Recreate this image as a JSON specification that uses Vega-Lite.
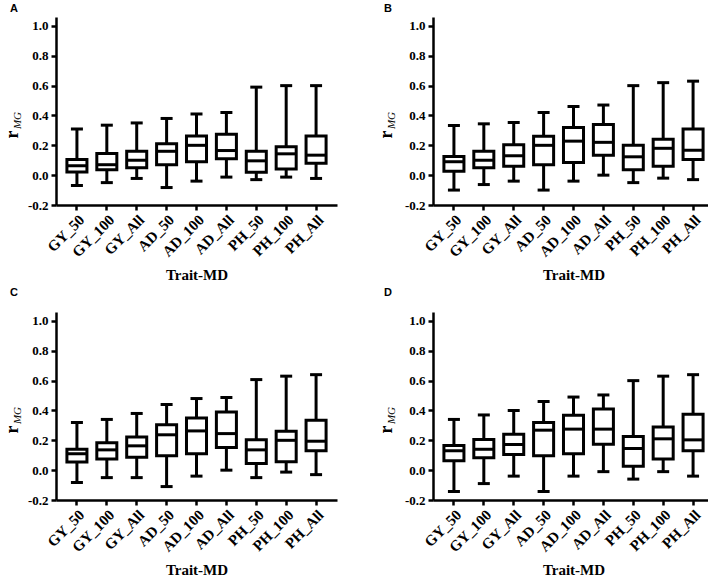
{
  "$schema": "https://vega.github.io/schema/vega-lite/v6.json",
  "padding": {"left": 3, "top": 3, "right": 0, "bottom": 0},
  "background": "white",
  "datasets": {
    "box": [
      {"panel": "A", "cat": "GY_50", "min": -0.07, "q1": 0.022, "med": 0.063, "q3": 0.105, "max": 0.31},
      {"panel": "A", "cat": "GY_100", "min": -0.05, "q1": 0.036, "med": 0.07, "q3": 0.145, "max": 0.335},
      {"panel": "A", "cat": "GY_All", "min": -0.022, "q1": 0.05, "med": 0.1, "q3": 0.16, "max": 0.35},
      {"panel": "A", "cat": "AD_50", "min": -0.083, "q1": 0.07, "med": 0.16, "q3": 0.21, "max": 0.38},
      {"panel": "A", "cat": "AD_100", "min": -0.04, "q1": 0.09, "med": 0.2, "q3": 0.263, "max": 0.41},
      {"panel": "A", "cat": "AD_All", "min": -0.013, "q1": 0.11, "med": 0.165, "q3": 0.275, "max": 0.42},
      {"panel": "A", "cat": "PH_50", "min": -0.03, "q1": 0.02, "med": 0.096, "q3": 0.16, "max": 0.59},
      {"panel": "A", "cat": "PH_100", "min": -0.013, "q1": 0.042, "med": 0.143, "q3": 0.19, "max": 0.6},
      {"panel": "A", "cat": "PH_All", "min": -0.022, "q1": 0.08, "med": 0.134, "q3": 0.263, "max": 0.6},
      {"panel": "B", "cat": "GY_50", "min": -0.1, "q1": 0.027, "med": 0.09, "q3": 0.125, "max": 0.333},
      {"panel": "B", "cat": "GY_100", "min": -0.063, "q1": 0.05, "med": 0.1, "q3": 0.16, "max": 0.344},
      {"panel": "B", "cat": "GY_All", "min": -0.04, "q1": 0.06, "med": 0.13, "q3": 0.203, "max": 0.353},
      {"panel": "B", "cat": "AD_50", "min": -0.1, "q1": 0.07, "med": 0.2, "q3": 0.26, "max": 0.42},
      {"panel": "B", "cat": "AD_100", "min": -0.04, "q1": 0.085, "med": 0.228, "q3": 0.32, "max": 0.46},
      {"panel": "B", "cat": "AD_All", "min": 0.0, "q1": 0.134, "med": 0.22, "q3": 0.34, "max": 0.47},
      {"panel": "B", "cat": "PH_50", "min": -0.05, "q1": 0.036, "med": 0.123, "q3": 0.2, "max": 0.6},
      {"panel": "B", "cat": "PH_100", "min": -0.02, "q1": 0.06, "med": 0.18, "q3": 0.24, "max": 0.62},
      {"panel": "B", "cat": "PH_All", "min": -0.03, "q1": 0.105, "med": 0.167, "q3": 0.31, "max": 0.63},
      {"panel": "C", "cat": "GY_50", "min": -0.083, "q1": 0.054, "med": 0.11, "q3": 0.14, "max": 0.32},
      {"panel": "C", "cat": "GY_100", "min": -0.05, "q1": 0.074, "med": 0.136, "q3": 0.183, "max": 0.34},
      {"panel": "C", "cat": "GY_All", "min": -0.05, "q1": 0.087, "med": 0.163, "q3": 0.223, "max": 0.38},
      {"panel": "C", "cat": "AD_50", "min": -0.11, "q1": 0.096, "med": 0.237, "q3": 0.304, "max": 0.44},
      {"panel": "C", "cat": "AD_100", "min": -0.04, "q1": 0.11, "med": 0.263, "q3": 0.35, "max": 0.48},
      {"panel": "C", "cat": "AD_All", "min": 0.0, "q1": 0.152, "med": 0.245, "q3": 0.39, "max": 0.487},
      {"panel": "C", "cat": "PH_50", "min": -0.05, "q1": 0.045, "med": 0.136, "q3": 0.203, "max": 0.607},
      {"panel": "C", "cat": "PH_100", "min": -0.013, "q1": 0.056, "med": 0.2, "q3": 0.26, "max": 0.63},
      {"panel": "C", "cat": "PH_All", "min": -0.03, "q1": 0.13, "med": 0.194, "q3": 0.335, "max": 0.64},
      {"panel": "D", "cat": "GY_50", "min": -0.143, "q1": 0.063, "med": 0.13, "q3": 0.165, "max": 0.34},
      {"panel": "D", "cat": "GY_100", "min": -0.09, "q1": 0.083, "med": 0.14, "q3": 0.205, "max": 0.37},
      {"panel": "D", "cat": "GY_All", "min": -0.04, "q1": 0.105, "med": 0.172, "q3": 0.24, "max": 0.4},
      {"panel": "D", "cat": "AD_50", "min": -0.143, "q1": 0.096, "med": 0.268, "q3": 0.32, "max": 0.46},
      {"panel": "D", "cat": "AD_100", "min": -0.04, "q1": 0.11, "med": 0.275, "q3": 0.368, "max": 0.49},
      {"panel": "D", "cat": "AD_All", "min": -0.01, "q1": 0.174, "med": 0.275, "q3": 0.41, "max": 0.504},
      {"panel": "D", "cat": "PH_50", "min": -0.06, "q1": 0.027, "med": 0.145, "q3": 0.225, "max": 0.6},
      {"panel": "D", "cat": "PH_100", "min": -0.01, "q1": 0.074, "med": 0.21, "q3": 0.29, "max": 0.63},
      {"panel": "D", "cat": "PH_All", "min": -0.04, "q1": 0.13, "med": 0.203, "q3": 0.375, "max": 0.64}
    ]
  },
  "vconcat": [
    {
      "hconcat": [
        {
          "data": {"name": "box"},
          "transform": [{"filter": "datum.panel === 'A'"}],
          "title": {"text": "A", "dx": -46, "offset": 3},
          "width": 281, "height": 188,
          "encoding": {"x": {"field": "cat", "type": "nominal", "sort": ["GY_50", "GY_100", "GY_All", "AD_50", "AD_100", "AD_All", "PH_50", "PH_100", "PH_All"], "scale": {"paddingInner": 0.33, "paddingOuter": 0.365}, "title": "Trait-MD"}},
          "layer": [
            {"mark": {"type": "rule", "strokeWidth": 3, "color": "black"}, "encoding": {"y": {"field": "min", "type": "quantitative", "scale": {"domain": [-0.2, 1.06], "nice": false, "zero": false}, "axis": {"title": "r", "values": [-0.2, 0, 0.2, 0.4, 0.6, 0.8, 1.0], "format": ".1f", "labelExpr": "replace(datum.label, '\u2212', '-')", "titleX": -39, "titleY": 117, "titleAngle": -90, "titleAlign": "center", "titleBaseline": "alphabetic", "titleFontSize": 18}}, "y2": {"field": "max"}}},
            {"mark": {"type": "tick", "size": 12, "thickness": 3, "color": "black", "opacity": 1}, "encoding": {"y": {"field": "min", "type": "quantitative", "axis": null}}},
            {"mark": {"type": "tick", "size": 12, "thickness": 3, "color": "black", "opacity": 1}, "encoding": {"y": {"field": "max", "type": "quantitative", "axis": null}}},
            {"mark": {"type": "bar", "fill": "white", "stroke": "black", "strokeWidth": 3, "fillOpacity": 1}, "encoding": {"y": {"field": "q1", "type": "quantitative", "axis": {"title": "MG", "orient": "left", "labels": false, "ticks": false, "domain": false, "grid": false, "titleX": -36, "titleY": 103, "titleAngle": -90, "titleAlign": "center", "titleBaseline": "alphabetic", "titleFontStyle": "italic", "titleFontWeight": "normal", "titleFontSize": 11}}, "y2": {"field": "q3"}}},
            {"mark": {"type": "tick", "size": 20, "thickness": 3, "color": "black", "opacity": 1}, "encoding": {"y": {"field": "med", "type": "quantitative", "axis": null}}}
          ],
          "resolve": {"axis": {"y": "independent"}}
        },
        {
          "data": {"name": "box"},
          "transform": [{"filter": "datum.panel === 'B'"}],
          "title": {"text": "B", "dx": -49, "offset": 3},
          "width": 281, "height": 188,
          "encoding": {"x": {"field": "cat", "type": "nominal", "sort": ["GY_50", "GY_100", "GY_All", "AD_50", "AD_100", "AD_All", "PH_50", "PH_100", "PH_All"], "scale": {"paddingInner": 0.33, "paddingOuter": 0.365}, "title": "Trait-MD"}},
          "layer": [
            {"mark": {"type": "rule", "strokeWidth": 3, "color": "black"}, "encoding": {"y": {"field": "min", "type": "quantitative", "scale": {"domain": [-0.2, 1.06], "nice": false, "zero": false}, "axis": {"title": "r", "values": [-0.2, 0, 0.2, 0.4, 0.6, 0.8, 1.0], "format": ".1f", "labelExpr": "replace(datum.label, '\u2212', '-')", "titleX": -42, "titleY": 117, "titleAngle": -90, "titleAlign": "center", "titleBaseline": "alphabetic", "titleFontSize": 18}}, "y2": {"field": "max"}}},
            {"mark": {"type": "tick", "size": 12, "thickness": 3, "color": "black", "opacity": 1}, "encoding": {"y": {"field": "min", "type": "quantitative", "axis": null}}},
            {"mark": {"type": "tick", "size": 12, "thickness": 3, "color": "black", "opacity": 1}, "encoding": {"y": {"field": "max", "type": "quantitative", "axis": null}}},
            {"mark": {"type": "bar", "fill": "white", "stroke": "black", "strokeWidth": 3, "fillOpacity": 1}, "encoding": {"y": {"field": "q1", "type": "quantitative", "axis": {"title": "MG", "orient": "left", "labels": false, "ticks": false, "domain": false, "grid": false, "titleX": -39, "titleY": 103, "titleAngle": -90, "titleAlign": "center", "titleBaseline": "alphabetic", "titleFontStyle": "italic", "titleFontWeight": "normal", "titleFontSize": 11}}, "y2": {"field": "q3"}}},
            {"mark": {"type": "tick", "size": 20, "thickness": 3, "color": "black", "opacity": 1}, "encoding": {"y": {"field": "med", "type": "quantitative", "axis": null}}}
          ],
          "resolve": {"axis": {"y": "independent"}}
        }
      ],
      "spacing": 40
    },
    {
      "hconcat": [
        {
          "data": {"name": "box"},
          "transform": [{"filter": "datum.panel === 'C'"}],
          "title": {"text": "C", "dx": -46, "offset": 14},
          "width": 281, "height": 188,
          "encoding": {"x": {"field": "cat", "type": "nominal", "sort": ["GY_50", "GY_100", "GY_All", "AD_50", "AD_100", "AD_All", "PH_50", "PH_100", "PH_All"], "scale": {"paddingInner": 0.33, "paddingOuter": 0.365}, "title": "Trait-MD"}},
          "layer": [
            {"mark": {"type": "rule", "strokeWidth": 3, "color": "black"}, "encoding": {"y": {"field": "min", "type": "quantitative", "scale": {"domain": [-0.2, 1.06], "nice": false, "zero": false}, "axis": {"title": "r", "values": [-0.2, 0, 0.2, 0.4, 0.6, 0.8, 1.0], "format": ".1f", "labelExpr": "replace(datum.label, '\u2212', '-')", "titleX": -39, "titleY": 117, "titleAngle": -90, "titleAlign": "center", "titleBaseline": "alphabetic", "titleFontSize": 18}}, "y2": {"field": "max"}}},
            {"mark": {"type": "tick", "size": 12, "thickness": 3, "color": "black", "opacity": 1}, "encoding": {"y": {"field": "min", "type": "quantitative", "axis": null}}},
            {"mark": {"type": "tick", "size": 12, "thickness": 3, "color": "black", "opacity": 1}, "encoding": {"y": {"field": "max", "type": "quantitative", "axis": null}}},
            {"mark": {"type": "bar", "fill": "white", "stroke": "black", "strokeWidth": 3, "fillOpacity": 1}, "encoding": {"y": {"field": "q1", "type": "quantitative", "axis": {"title": "MG", "orient": "left", "labels": false, "ticks": false, "domain": false, "grid": false, "titleX": -36, "titleY": 103, "titleAngle": -90, "titleAlign": "center", "titleBaseline": "alphabetic", "titleFontStyle": "italic", "titleFontWeight": "normal", "titleFontSize": 11}}, "y2": {"field": "q3"}}},
            {"mark": {"type": "tick", "size": 20, "thickness": 3, "color": "black", "opacity": 1}, "encoding": {"y": {"field": "med", "type": "quantitative", "axis": null}}}
          ],
          "resolve": {"axis": {"y": "independent"}}
        },
        {
          "data": {"name": "box"},
          "transform": [{"filter": "datum.panel === 'D'"}],
          "title": {"text": "D", "dx": -49, "offset": 14},
          "width": 281, "height": 188,
          "encoding": {"x": {"field": "cat", "type": "nominal", "sort": ["GY_50", "GY_100", "GY_All", "AD_50", "AD_100", "AD_All", "PH_50", "PH_100", "PH_All"], "scale": {"paddingInner": 0.33, "paddingOuter": 0.365}, "title": "Trait-MD"}},
          "layer": [
            {"mark": {"type": "rule", "strokeWidth": 3, "color": "black"}, "encoding": {"y": {"field": "min", "type": "quantitative", "scale": {"domain": [-0.2, 1.06], "nice": false, "zero": false}, "axis": {"title": "r", "values": [-0.2, 0, 0.2, 0.4, 0.6, 0.8, 1.0], "format": ".1f", "labelExpr": "replace(datum.label, '\u2212', '-')", "titleX": -42, "titleY": 117, "titleAngle": -90, "titleAlign": "center", "titleBaseline": "alphabetic", "titleFontSize": 18}}, "y2": {"field": "max"}}},
            {"mark": {"type": "tick", "size": 12, "thickness": 3, "color": "black", "opacity": 1}, "encoding": {"y": {"field": "min", "type": "quantitative", "axis": null}}},
            {"mark": {"type": "tick", "size": 12, "thickness": 3, "color": "black", "opacity": 1}, "encoding": {"y": {"field": "max", "type": "quantitative", "axis": null}}},
            {"mark": {"type": "bar", "fill": "white", "stroke": "black", "strokeWidth": 3, "fillOpacity": 1}, "encoding": {"y": {"field": "q1", "type": "quantitative", "axis": {"title": "MG", "orient": "left", "labels": false, "ticks": false, "domain": false, "grid": false, "titleX": -39, "titleY": 103, "titleAngle": -90, "titleAlign": "center", "titleBaseline": "alphabetic", "titleFontStyle": "italic", "titleFontWeight": "normal", "titleFontSize": 11}}, "y2": {"field": "q3"}}},
            {"mark": {"type": "tick", "size": 20, "thickness": 3, "color": "black", "opacity": 1}, "encoding": {"y": {"field": "med", "type": "quantitative", "axis": null}}}
          ],
          "resolve": {"axis": {"y": "independent"}}
        }
      ],
      "spacing": 40
    }
  ],
  "spacing": 4,
  "config": {
    "view": {"stroke": null},
    "axis": {"domainColor": "black", "domainWidth": 2.5, "tickColor": "black", "tickWidth": 2.5, "tickSize": 5, "labelFont": "Liberation Serif", "labelFontWeight": "bold", "labelFontSize": 13, "labelColor": "black", "titleFont": "Liberation Serif", "titleFontWeight": "bold", "titleColor": "black", "grid": false},
    "axisY": {"labelPadding": 3},
    "axisX": {"labelAngle": -45, "labelFontSize": 15, "titleFontSize": 15, "titlePadding": 8, "labelPadding": 2},
    "title": {"font": "Liberation Sans", "fontWeight": "bold", "fontSize": 11, "anchor": "start", "frame": "group", "color": "black"}
  }
}
